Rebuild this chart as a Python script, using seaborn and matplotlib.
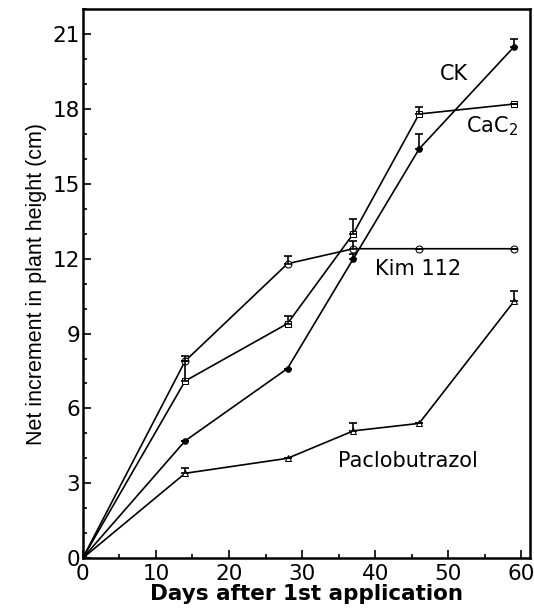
import numpy as np
import pandas as pd
import matplotlib
matplotlib.use("Agg")
import matplotlib.pyplot as plt
import seaborn as sns
from matplotlib.ticker import MultipleLocator
from matplotlib.transforms import ScaledTranslation

# data
days = [0, 14, 28, 37, 46, 59]
ck = [0, 4.7, 7.6, 12.0, 16.4, 20.5]
cac2 = [0, 7.1, 9.4, 13.0, 17.8, 18.2]
kim = [0, 7.9, 11.8, 12.4, 12.4, 12.4]
paclo = [0, 3.4, 4.0, 5.1, 5.4, 10.3]

# upper error (only upper half visible)
ck_err = [0, 0, 0, 0.2, 0.6, 0.3]
cac2_err = [0, 0.8, 0.3, 0.6, 0.3, 0]
kim_err = [0, 0.2, 0.3, 0.3, 0, 0]
paclo_err = [0, 0.2, 0, 0.3, 0, 0.4]

names = ["CK", "CaC2", "Kim 112", "Paclobutrazol"]
series = [ck, cac2, kim, paclo]
errs = [ck_err, cac2_err, kim_err, paclo_err]

df = pd.DataFrame({
    "day": days * 4,
    "height": ck + cac2 + kim + paclo,
    "trt": sum([[n] * len(days) for n in names], []),
})

sns.set_style("ticks")
plt.rcParams['font.family'] = ['DejaVu Sans']
plt.rcParams.update({"text.color": "black", "axes.labelcolor": "black",
                     "xtick.color": "black", "ytick.color": "black",
                     "axes.edgecolor": "black"})

fig = plt.figure(figsize=(5.34, 6.14), dpi=100)
ax = fig.add_axes([0.155, 0.091, 0.838, 0.894])

sns.lineplot(data=df, x="day", y="height", hue="trt", style="trt",
             palette=["black"] * 4, dashes=False,
             markers={"CK": "o", "CaC2": "s", "Kim 112": "o", "Paclobutrazol": "^"},
             markersize=5, linewidth=1.2, legend=False, ax=ax)

# open markers for everything except CK
for line, n in zip(ax.lines, names):
    line.set_markeredgecolor("black")
    if n != "CK":
        line.set_markerfacecolor("white")
    else:
        line.set_markersize(4)

for vals, e in zip(series, errs):
    ax.errorbar(days[1:], vals[1:], yerr=[np.zeros(5), e[1:]], fmt="none",
                ecolor="black", elinewidth=1.2, capsize=3, capthick=1.2)

ax.set_xlim(0, 61.2)
ax.set_ylim(0, 22)
ax.xaxis.set_major_locator(MultipleLocator(10))
ax.xaxis.set_minor_locator(MultipleLocator(5))
ax.yaxis.set_major_locator(MultipleLocator(3))
ax.yaxis.set_minor_locator(MultipleLocator(1))
ax.tick_params(which="both", direction="in", labelsize=15.5, width=1.2)
ax.tick_params(axis="y", pad=2)
ax.tick_params(axis="x", pad=4)
ax.tick_params(which="major", length=6)
ax.tick_params(which="minor", length=3)
for s in ax.spines.values():
    s.set_linewidth(1.8)

# lift the y "0" a little so it clears the x "0"
lab0 = ax.yaxis.get_major_ticks()[0].label1
lab0.set_transform(lab0.get_transform() + ScaledTranslation(0, 5 / 72, fig.dpi_scale_trans))

ax.set_xlabel("Days after 1st application", fontsize=15.5, fontweight="bold",
              labelpad=0)
ax.set_ylabel("Net increment in plant height (cm)", fontsize=15.5,
              family="Liberation Sans", labelpad=4)

ax.text(50.8, 19.4, "CK", fontsize=15, ha="center", va="center")
ax.text(56, 17.3, "CaC$_2$", fontsize=15, ha="center", va="center")
ax.text(45.9, 11.6, "Kim 112", fontsize=15, ha="center", va="center")
ax.text(44.5, 3.9, "Paclobutrazol", fontsize=15, ha="center", va="center")

fig.savefig("out.png", dpi=100)
